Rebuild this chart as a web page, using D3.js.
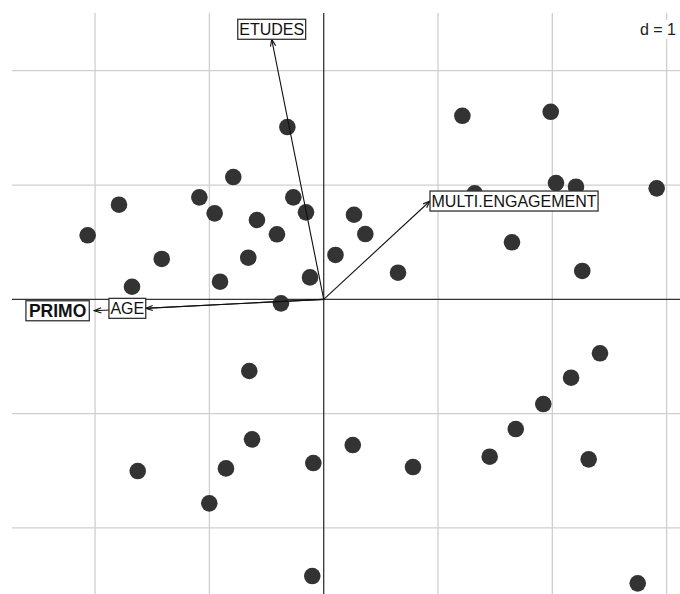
<!DOCTYPE html>
<html>
<head>
<meta charset="utf-8">
<script src="https://cdn.jsdelivr.net/npm/d3@7"></script>
<style>
  body { margin: 0; background: #fff; }
  text { font-family: "Liberation Sans", Arial, sans-serif; }
</style>
</head>
<body>
<div id="chart"></div>
<script>
// Row scores (individuals) on axes 1 and 2
const pointX = [-2.065, -1.791, -1.677, -1.417, -1.088, -0.954, -0.791, -0.907, -0.660, -0.584,
  -0.409, -0.318, -0.266, -0.155, -0.120, -0.374, 0.103, 0.265, 0.364, 0.650,
  1.213, 1.321, 1.986, 2.032, 2.207, 2.913, 1.647, 2.262, -0.651, -0.627,
  -0.855, -1.627, -1.001, -0.091, 0.254, 0.781, 1.452, 1.680, 1.921, 2.164,
  2.417, 2.318, -0.100, 2.747];
const pointY = [0.560, 0.828, 0.110, 0.353, 0.892, 0.752, 1.070, 0.154, 0.364, 0.694,
  0.569, 1.507, 0.892, 0.761, 0.192, -0.035, 0.388, 0.740, 0.571, 0.233,
  1.606, 0.927, 1.641, 1.017, 0.985, 0.971, 0.499, 0.248, -0.627, -1.225,
  -1.479, -1.502, -1.785, -1.432, -1.275, -1.467, -1.377, -1.135, -0.916, -0.686,
  -0.472, -1.400, -2.421, -2.485];

// Variable arrows
const varNames = ["ETUDES", "MULTI.ENGAGEMENT", "PRIMO", "AGE"];
const varX = [-0.455, 0.930, -2.007, -1.557];
const varY = [2.275, 0.860, -0.100, -0.079];
const emphasised = ["PRIMO"];

const gridTicks = [-2, -1, 0, 1, 2, 3];
const gridStep = "d = 1";

const width = 680, height = 594;
const svg = d3.select('#chart').append('svg')
  .attr('width', width)
  .attr('height', height);

const x = d3.scaleLinear().domain([-2.727, 3.117]).range([12, 680]);
const y = d3.scaleLinear().domain([-2.578, 2.505]).range([594, 13]);

const gridGroup = svg.append('g');
const pointGroup = svg.append('g');
const arrowGroup = svg.append('g');
const labelGroup = svg.append('g');

// grid
gridGroup.selectAll('line.v').data(gridTicks.filter(t => t !== 0)).join('line')
  .attr('class', 'v')
  .attr('x1', d => x(d)).attr('x2', d => x(d))
  .attr('y1', y.range()[1]).attr('y2', y.range()[0])
  .attr('stroke', '#cfcfcf').attr('stroke-width', 1.3);
gridGroup.selectAll('line.h').data(gridTicks.filter(t => t !== 0 && t > y.domain()[0] && t < y.domain()[1])).join('line')
  .attr('class', 'h')
  .attr('y1', d => y(d)).attr('y2', d => y(d))
  .attr('x1', x.range()[0]).attr('x2', x.range()[1])
  .attr('stroke', '#cfcfcf').attr('stroke-width', 1.3);

// d = 1 legend, on a white patch
const legend = gridGroup.append('text')
  .attr('x', 676).attr('y', 35)
  .attr('text-anchor', 'end')
  .attr('font-size', 16)
  .attr('fill', '#222')
  .text(gridStep);
const lb = legend.node().getBBox();
gridGroup.insert('rect', 'text')
  .attr('x', lb.x - 2).attr('y', lb.y - 1)
  .attr('width', lb.width + 6).attr('height', lb.height + 2)
  .attr('fill', '#fff');

// axes through the origin
gridGroup.append('line')
  .attr('x1', x.range()[0]).attr('x2', x.range()[1])
  .attr('y1', y(0)).attr('y2', y(0))
  .attr('stroke', '#333').attr('stroke-width', 1.3);
gridGroup.append('line')
  .attr('x1', x(0)).attr('x2', x(0))
  .attr('y1', y.range()[1]).attr('y2', y.range()[0])
  .attr('stroke', '#333').attr('stroke-width', 1.3);

// points
pointGroup.selectAll('circle').data(d3.range(pointX.length)).join('circle')
  .attr('cx', i => x(pointX[i]))
  .attr('cy', i => y(pointY[i]))
  .attr('r', 8.3)
  .attr('fill', '#333');

// arrows
svg.append('defs').append('marker')
  .attr('id', 'head')
  .attr('viewBox', '-10 -5 12 10')
  .attr('refX', 0).attr('refY', 0)
  .attr('markerWidth', 12).attr('markerHeight', 10)
  .attr('markerUnits', 'userSpaceOnUse')
  .attr('orient', 'auto')
  .append('path')
  .attr('d', 'M-7,-2.6L0,0L-7,2.6')
  .attr('fill', 'none').attr('stroke', '#111').attr('stroke-width', 1.1);

const vars = varNames.map((name, i) => ({ name, vx: varX[i], vy: varY[i] }));

arrowGroup.selectAll('line').data(vars).join('line')
  .attr('x1', x(0)).attr('y1', y(0))
  .attr('x2', d => x(d.vx)).attr('y2', d => y(d.vy))
  .attr('stroke', '#111').attr('stroke-width', 1.1)
  .attr('marker-end', 'url(#head)');

// labels, pushed away from the origin like ade4 does
const labels = labelGroup.selectAll('g').data(vars).join('g');
labels.each(function (d) {
  const g = d3.select(this);
  const strong = emphasised.includes(d.name);
  const t = g.append('text')
    .attr('font-size', strong ? 17.5 : 16)
    .attr('font-weight', strong ? 'bold' : 'normal')
    .attr('fill', '#111')
    .attr('dominant-baseline', 'central')
    .text(d.name);
  const w = t.node().getComputedTextLength();
  const px = x(d.vx), py = y(d.vy);
  const horiz = Math.abs(d.vx) > Math.abs(d.vy) * 0.9;
  let cx, cy;
  const bh = 20, pad = strong ? 3 : 1.5;
  if (horiz) {
    cx = d.vx > 0 ? px + w / 2 + pad : px - w / 2 - pad - (strong ? 5 : 0);
    cy = py;
  } else {
    cx = px;
    cy = d.vy > 0 ? py - bh / 2 : py + bh / 2;
  }
  t.attr('x', cx).attr('y', cy + 0.5).attr('text-anchor', 'middle');
  g.insert('rect', 'text')
    .attr('x', cx - w / 2 - pad).attr('y', cy - bh / 2)
    .attr('width', w + 2 * pad).attr('height', bh)
    .attr('fill', '#fff').attr('stroke', '#333').attr('stroke-width', 1.3);
});
</script>
</body>
</html>
